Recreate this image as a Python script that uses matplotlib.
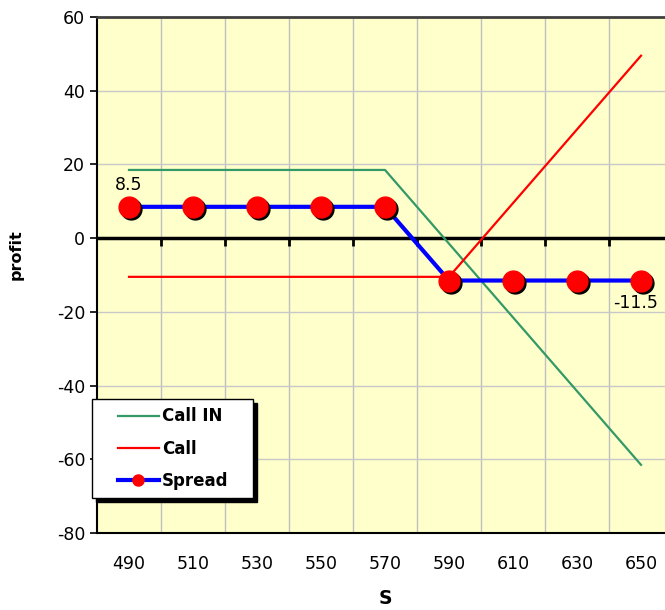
import matplotlib
matplotlib.use("Agg")
import matplotlib.pyplot as plt
import matplotlib.transforms as mtransforms
from matplotlib.legend_handler import HandlerLine2D
from matplotlib.lines import Line2D
import numpy as np

# payoff table for the spread position
S = [490, 510, 530, 550, 570, 590, 610, 630, 650]
call_in = [18.5, 18.5, 18.5, 18.5, 18.5, -1.5, -21.5, -41.5, -61.5]
call = [-10.5, -10.5, -10.5, -10.5, -10.5, -10.5, 9.5, 29.5, 49.5]
spread = [8.5, 8.5, 8.5, 8.5, 8.5, -11.5, -11.5, -11.5, -11.5]

plt.rcParams['font.family'] = ['DejaVu Sans']
plt.rcParams['axes.unicode_minus'] = False

fig = plt.figure(figsize=(6.65, 6.1), dpi=100)
ax = fig.add_axes([97/665, 1-533/610, 576/665, 516/610])
ax.set_facecolor('#FFFFCC')

pos = np.arange(len(S))
ax.set_xlim(-0.5, len(S) - 0.5)
ax.set_ylim(-80, 60)

# category labels centred, gridlines on the boundaries
ax.set_xticks(pos)
ax.set_xticklabels([str(s) for s in S], fontsize=12.5)
ax.tick_params(axis='x', which='both', length=0, pad=16)
ax.set_yticks(np.arange(-80, 61, 20))
ax.tick_params(axis='y', labelsize=12.5, length=5, width=1.2, direction='out')
for xb in pos[:-1] + 0.5:
    ax.axvline(xb, color='#C0C0C0', lw=1, zorder=0)
for yv in np.arange(-60, 60, 20):
    ax.axhline(yv, color='#C8C8C8', lw=1, zorder=0)

for side in ['left', 'bottom']:
    ax.spines[side].set_color('black')
    ax.spines[side].set_linewidth(1.5)
ax.spines['top'].set_color('#404040')
ax.spines['top'].set_linewidth(2)
ax.spines['right'].set_visible(False)

# category axis crossing at zero, ticks hanging below it
ax.axhline(0, color='black', lw=2.5, zorder=2)
sec = ax.secondary_xaxis(80/140)
sec.set_xticks(pos[:-1] + 0.5)
sec.set_xticklabels([])
sec.tick_params(length=6, width=2, direction='in', color='black')
for sp in sec.spines.values():
    sp.set_visible(False)

ax.plot(pos, call_in, color='#339966', lw=1.6, label='Call IN', zorder=3)
ax.plot(pos, call, color='#FF0000', lw=1.6, label='Call', zorder=3)
ax.plot(pos, spread, color='#0000FF', lw=3, zorder=4)
shadow = mtransforms.offset_copy(ax.transData, fig=fig, x=2, y=-2, units='dots')
ax.plot(pos, spread, 'o', color='black', ms=15, transform=shadow, zorder=5)
ax.plot(pos, spread, 'o', color='#FF0000', ms=15, zorder=6)
ax.plot([], [], color='#0000FF', lw=3, marker='o', mfc='#FF0000',
        mec='#FF0000', ms=8, label='Spread')

ax.annotate(f'{spread[0]:g}', (pos[0], spread[0]), xytext=(0, 9),
            textcoords='offset points', ha='center', va='bottom', fontsize=12.5)
ax.annotate(f'{spread[-1]:g}', (pos[-1], spread[-1]), xytext=(12, -10),
            textcoords='offset points', ha='right', va='top', fontsize=12.5)

ax.set_xlabel('S', fontsize=13.5, fontweight='bold', labelpad=11)
ax.set_ylabel('profit', fontsize=11.5, fontweight='bold')
ax.yaxis.set_label_coords(-0.128, 0.539)

leg = ax.legend(loc='upper left',
                bbox_to_anchor=(-5/576, 1-(497-17)/516, 161/576, 98/516),
                mode='expand', borderaxespad=0,
                prop={'weight': 'bold', 'size': 12},
                frameon=True, fancybox=False,
                shadow={'color': 'black', 'alpha': 1, 'ox': 3, 'oy': -3},
                edgecolor='black', framealpha=1, handlelength=3.5,
                borderpad=0.5, labelspacing=0.85, handletextpad=0.18,
                handler_map={Line2D: HandlerLine2D(xpad=1.06)})
leg.get_frame().set_linewidth(1)
leg.set_zorder(10)

fig.savefig('out.png', dpi=100)
